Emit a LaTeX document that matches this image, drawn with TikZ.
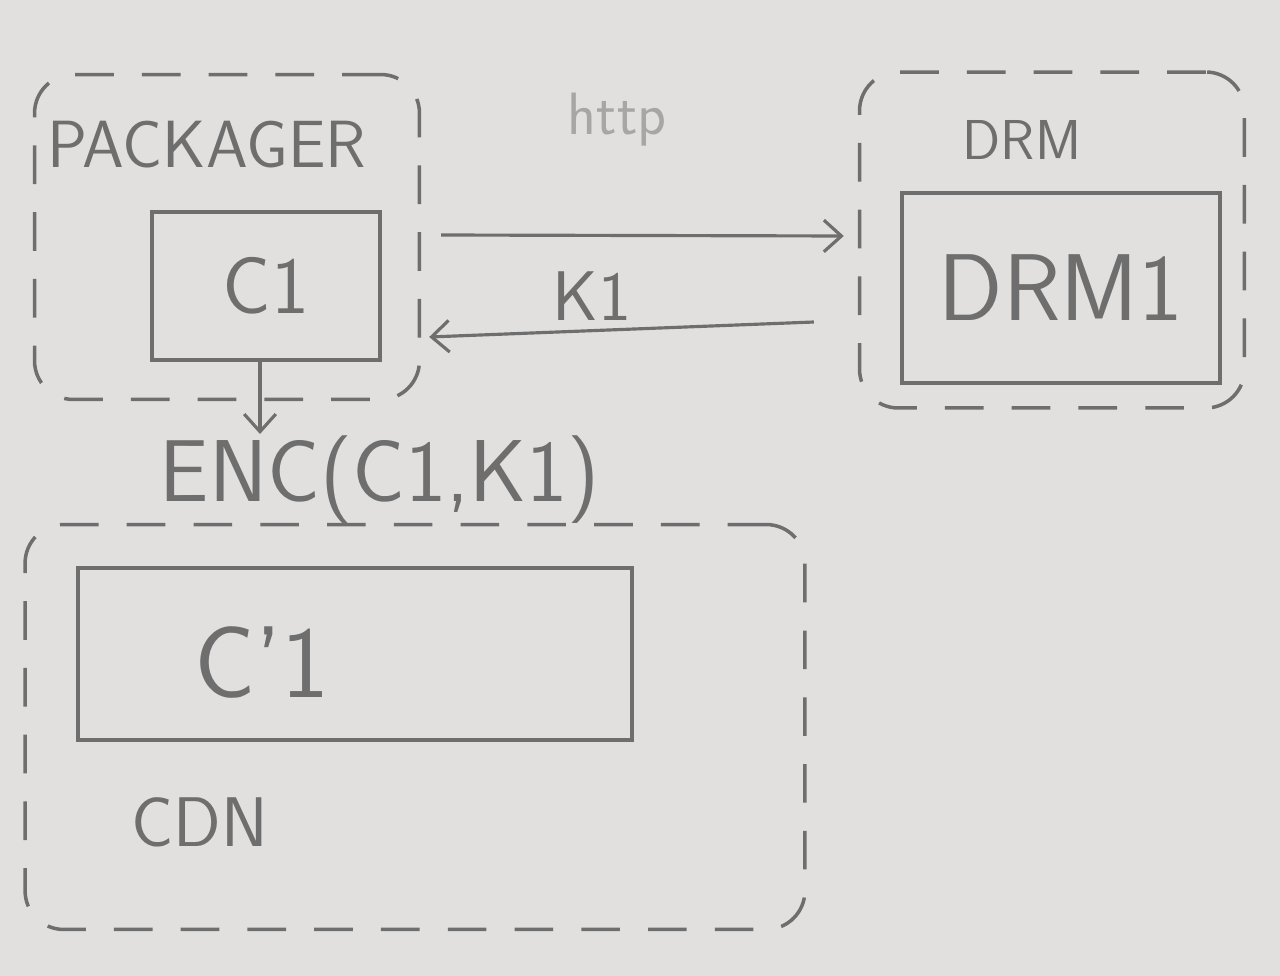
\documentclass[tikz,border=0pt]{standalone}
\usepackage{tikz}
\usetikzlibrary{positioning,arrows.meta,calc}
\definecolor{paper}{HTML}{E2E0DF}
\definecolor{pencil}{HTML}{6E6E6E}
\definecolor{faint}{HTML}{A8A6A5}
\tikzset{region/.style={draw=pencil,line width=2pt,rounded corners=22pt,dash pattern=on 22pt off 16pt}}
\tikzset{box/.style={draw=pencil,line width=2.2pt,inner sep=0pt}}
\tikzset{textbox/.style={draw=none,text=pencil,font=\sffamily,inner sep=1pt}}
\tikzset{>={Straight Barb[length=10pt,width=18pt,line width=1.8pt]}}

\begin{document}
\begin{tikzpicture}[x=0.02cm,y=-0.02cm]
        \fill[paper] (0,0) rectangle (1280,976);
        \useasboundingbox (0,0) rectangle (1280,976);

        \node[region,minimum width=7.7cm,minimum height=6.5cm] (packager) at (227,237) {};
        \node[textbox,font=\sffamily\fontsize{38}{38}\selectfont] (packager-lbl) at (207,145) {PACKAGER};
        \node[box,minimum width=4.56cm,minimum height=2.96cm,font=\sffamily\fontsize{46}{46}\selectfont,text=pencil] (c1) at (266,286) {C1};

        \node[region,minimum width=7.7cm,minimum height=6.72cm] (drm) at (1052,240) {};
        \node[textbox,font=\sffamily\fontsize{32}{32}\selectfont] (drm-lbl) at (1022,140) {DRM};
        \node[box,minimum width=6.36cm,minimum height=3.8cm,font=\sffamily\fontsize{54}{54}\selectfont,text=pencil] (drm1) at (1061,288) {DRM1};

        \node[region,minimum width=15.6cm,minimum height=8.1cm] (cdn) at (415,727) {};
        \node[box,minimum width=11.08cm,minimum height=3.44cm] (c1enc-box) at (355,654) {};
        \node[textbox,font=\sffamily\fontsize{58}{58}\selectfont] (c1enc) at (262,662) {C'1};
        \node[textbox,font=\sffamily\fontsize{40}{40}\selectfont] (cdn-lbl) at (200,822) {CDN};

        \node[textbox,text=faint,font=\sffamily\fontsize{34}{34}\selectfont] (http) at (617,120) {http};
        \node[textbox,font=\sffamily\fontsize{40}{40}\selectfont] (k1) at (592,296) {K1};
        \node[textbox,font=\sffamily\fontsize{50}{50}\selectfont] (enc) at (380,480) {ENC(C1,K1)};

        \draw[->,draw=pencil,line width=1.8pt] ($(packager.east)+(20,-2)$) to ($(drm.west)+(-14,-4)$);
        \draw[->,draw=pencil,line width=1.8pt] ($(drm.west)+(-44,82)$) to ($(packager.east)+(8,100)$);
        \draw[->,draw=pencil,line width=1.8pt] ([xshift=-0.12cm]c1.south) to ([xshift=-0.12cm]c1.south |- enc.north);
    \end{tikzpicture}
\end{document}
